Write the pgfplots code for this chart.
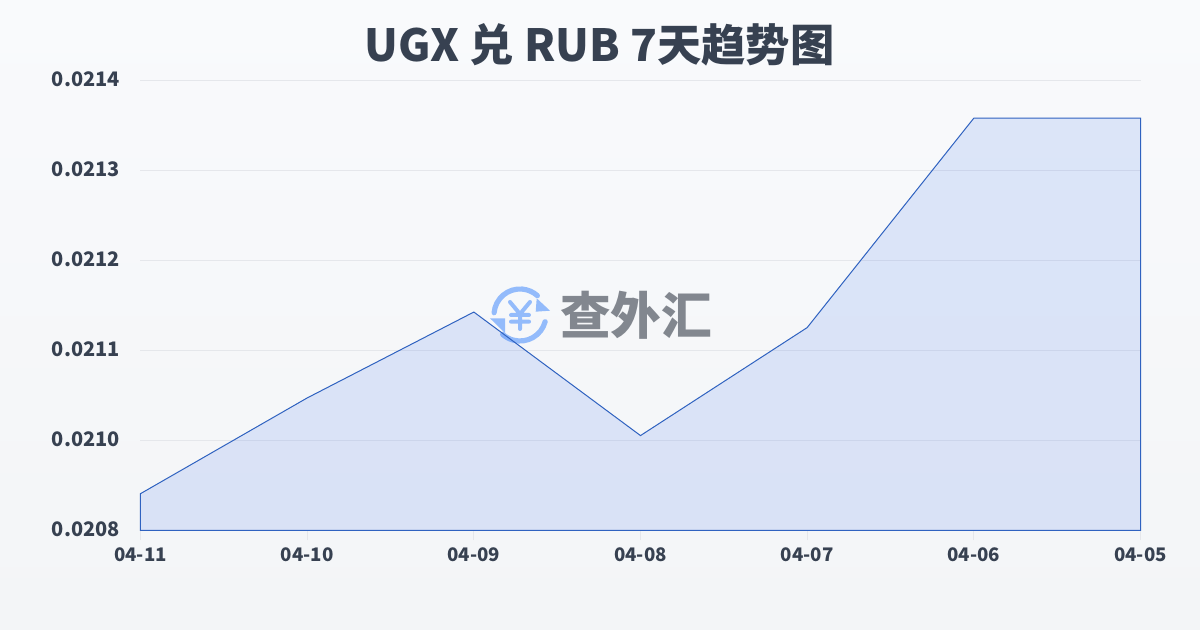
\documentclass[border=0pt]{standalone}
\usepackage{pgfplots}
\pgfplotsset{compat=1.18}
\usepackage{fontspec}
\setmainfont{Noto Sans CJK SC}
\newfontfamily\cjk{Noto Sans CJK SC}
\definecolor{bgtop}{HTML}{F9FAFC}
\definecolor{bgbot}{HTML}{F3F5F7}
\definecolor{ink}{HTML}{374151}
\definecolor{linec}{HTML}{2F62C0}
\definecolor{areac}{HTML}{2563EB}
\definecolor{gridc}{HTML}{E5E7EB}
\definecolor{logob}{HTML}{93BBFB}
\definecolor{logog}{HTML}{82878F}
\pgfplotstableread{
idx rate
0 0.020885
1 0.021002
2 0.021107
3 0.020956
4 0.021088
5 0.021344
6 0.021344
}\ratetable
\begin{document}
\begin{tikzpicture}[x=0.75pt,y=0.75pt]
% origin = axis lower-left (140.5, 530.5 px); y up
\shade[top color=bgtop,bottom color=bgbot,shading angle=0]
  (-140.5,-99.5) rectangle (1059.5,530.5);
\path[use as bounding box] (-140.5,-99.5) rectangle (1059.5,530.5);
\node[font=\cjk\bfseries\fontsize{33.2pt}{36pt}\selectfont,text=ink,anchor=center,inner sep=0pt]
  at (459,486) {UGX 兑 RUB 7天趋势图};
% watermark
\begin{scope}[shift={(379.5,215.5)}]
  \draw[logob,line width=3.9pt,line cap=round] (175:26) arc[start angle=175,end angle=48,radius=26];
  \fill[logob] (16.7,16.7) -- (30,4.3) -- (15.7,3.3) -- cycle;
  \draw[logob,line width=3.9pt,line cap=round] (-15:26) arc[start angle=-15,end angle=-132,radius=26];
  \fill[logob] (-30,-3.3) -- (-15,-3.3) -- (-15,-18) -- cycle;
  \draw[logob,line width=3pt,line cap=round,line join=round]
    (-10,13) -- (0,1) -- (10,13) (0,1) -- (0,-14) (-9,0) -- (9,0) (-9,-6.7) -- (9,-6.7);
\end{scope}
\node[font=\cjk\bfseries\fontsize{38pt}{40pt}\selectfont,text=logog,anchor=center,inner sep=0pt]
  at (495.5,215.5) {查外汇};
\begin{axis}[
  at={(0,0)},anchor=south west,
  scale only axis,width=750pt,height=337.5pt,
  xmin=0,xmax=6,ymin=0.02084,ymax=0.02139,
  axis line style={draw=none},
  scaled y ticks=false,
  xtick pos=bottom,
  ytick pos=left,
  xtick={0,1,2,3,4,5,6},
  xticklabels={\textbf{04-11},\textbf{04-10},\textbf{04-09},\textbf{04-08},\textbf{04-07},\textbf{04-06},\textbf{04-05}},
  ytick={0.02084,0.02095,0.02106,0.02117,0.02128,0.02139},
  yticklabels={\textbf{0.0208},\textbf{0.0210},\textbf{0.0211},\textbf{0.0212},\textbf{0.0213},\textbf{0.0214}},
  major tick length=7.5pt,
  tick align=outside,
  xtick style={draw=gridc,line width=0.75pt},
  ytick style={draw=none},
  ymajorgrids,
  grid style={draw=gridc,line width=0.75pt},
  xticklabel style={font=\fontsize{14pt}{16pt}\selectfont,text=ink,yshift=-1.5pt},
  yticklabel style={font=\fontsize{15pt}{17pt}\selectfont,text=ink,xshift=-4.5pt,yshift=1pt},
  clip=false,
]
\addplot[draw=linec,line width=0.75pt,fill=areac,fill opacity=0.13,draw opacity=1,line join=miter]
  table[x=idx,y=rate]{\ratetable} \closedcycle;
\end{axis}
\end{tikzpicture}
\end{document}
